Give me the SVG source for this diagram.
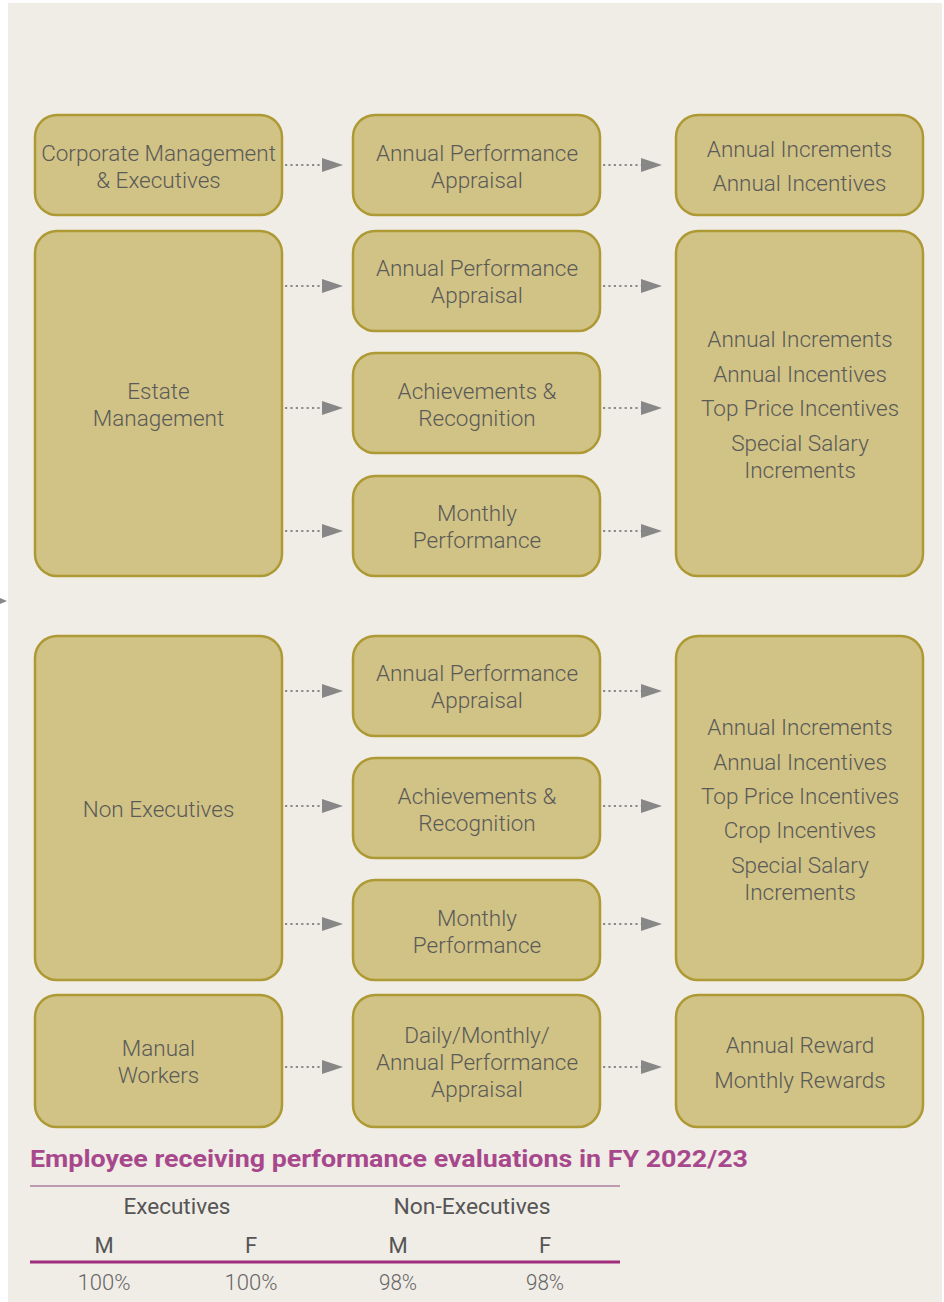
<svg xmlns="http://www.w3.org/2000/svg" width="944" height="1302" viewBox="0 0 944 1302">
<defs>
<style>
.bx{fill:#d1c285;stroke:#ae9a35;stroke-width:2.5}
.t{font-family:Roboto,"Liberation Sans",sans-serif;font-weight:300;font-size:22.5px;fill:#5a5a58;text-anchor:middle}
.c{stroke:#8a8a8a;stroke-width:2.2;stroke-dasharray:2.2 3.2;fill:none}
.h{font-family:Roboto,"Liberation Sans",sans-serif;font-weight:700;font-size:24px;fill:#a8488c}
.tb{font-family:Roboto,"Liberation Sans",sans-serif;font-weight:400;font-size:22px;fill:#555;text-anchor:middle}
.tv{font-family:Roboto,"Liberation Sans",sans-serif;font-weight:300;font-size:22px;fill:#666;text-anchor:middle}
</style>
<marker id="ah" markerUnits="userSpaceOnUse" markerWidth="22" markerHeight="16" refX="0" refY="8" orient="auto">
<polygon points="0,1 21,8 0,15" fill="#878787"/>
</marker>
</defs>
<rect x="0" y="0" width="944" height="1302" fill="#ffffff"/>
<rect x="8" y="3" width="934" height="1299" fill="#f0ece6"/>
<polygon points="0,598 7,601 0,604" fill="#878787"/>

<g id="connectors">
<line class="c" x1="285" y1="165" x2="322" y2="165" marker-end="url(#ah)"/>
<line class="c" x1="603" y1="165" x2="641" y2="165" marker-end="url(#ah)"/>
<line class="c" x1="285" y1="286" x2="322" y2="286" marker-end="url(#ah)"/>
<line class="c" x1="603" y1="286" x2="641" y2="286" marker-end="url(#ah)"/>
<line class="c" x1="285" y1="408" x2="322" y2="408" marker-end="url(#ah)"/>
<line class="c" x1="603" y1="408" x2="641" y2="408" marker-end="url(#ah)"/>
<line class="c" x1="285" y1="531" x2="322" y2="531" marker-end="url(#ah)"/>
<line class="c" x1="603" y1="531" x2="641" y2="531" marker-end="url(#ah)"/>
<line class="c" x1="285" y1="691" x2="322" y2="691" marker-end="url(#ah)"/>
<line class="c" x1="603" y1="691" x2="641" y2="691" marker-end="url(#ah)"/>
<line class="c" x1="285" y1="806" x2="322" y2="806" marker-end="url(#ah)"/>
<line class="c" x1="603" y1="806" x2="641" y2="806" marker-end="url(#ah)"/>
<line class="c" x1="285" y1="924" x2="322" y2="924" marker-end="url(#ah)"/>
<line class="c" x1="603" y1="924" x2="641" y2="924" marker-end="url(#ah)"/>
<line class="c" x1="285" y1="1067" x2="322" y2="1067" marker-end="url(#ah)"/>
<line class="c" x1="603" y1="1067" x2="641" y2="1067" marker-end="url(#ah)"/>
</g>

<g id="corp"><rect class="bx" x="35" y="115" width="247" height="100" rx="22"/>
<text class="t" x="158.5" y="161">Corporate Management</text><text class="t" x="158.5" y="188">&amp; Executives</text></g>
<g id="corp-apa"><rect class="bx" x="353" y="115" width="247" height="100" rx="22"/>
<text class="t" x="477" y="161">Annual Performance</text><text class="t" x="477" y="188">Appraisal</text></g>
<g id="corp-rew"><rect class="bx" x="676" y="115" width="247" height="100" rx="22"/>
<text class="t" x="799.5" y="157">Annual Increments</text><text class="t" x="799.5" y="191">Annual Incentives</text></g>

<g id="estate"><rect class="bx" x="35" y="231" width="247" height="345" rx="22"/>
<text class="t" x="158.5" y="399">Estate</text><text class="t" x="158.5" y="426">Management</text></g>
<g id="estate-apa"><rect class="bx" x="353" y="231" width="247" height="100" rx="22"/>
<text class="t" x="477" y="276">Annual Performance</text><text class="t" x="477" y="303">Appraisal</text></g>
<g id="estate-ach"><rect class="bx" x="353" y="353" width="247" height="100" rx="22"/>
<text class="t" x="477" y="399">Achievements &amp;</text><text class="t" x="477" y="426">Recognition</text></g>
<g id="estate-mon"><rect class="bx" x="353" y="476" width="247" height="100" rx="22"/>
<text class="t" x="477" y="521">Monthly</text><text class="t" x="477" y="548">Performance</text></g>
<g id="estate-rew"><rect class="bx" x="676" y="231" width="247" height="345" rx="22"/>
<text class="t" x="800" y="347">Annual Increments</text><text class="t" x="800" y="382">Annual Incentives</text><text class="t" x="800" y="416">Top Price Incentives</text><text class="t" x="800" y="451">Special Salary</text><text class="t" x="800" y="478">Increments</text></g>

<g id="nonexec"><rect class="bx" x="35" y="636" width="247" height="344" rx="22"/>
<text class="t" x="158.5" y="817">Non Executives</text></g>
<g id="nonexec-apa"><rect class="bx" x="353" y="636" width="247" height="100" rx="22"/>
<text class="t" x="477" y="681">Annual Performance</text><text class="t" x="477" y="708">Appraisal</text></g>
<g id="nonexec-ach"><rect class="bx" x="353" y="758" width="247" height="100" rx="22"/>
<text class="t" x="477" y="804">Achievements &amp;</text><text class="t" x="477" y="831">Recognition</text></g>
<g id="nonexec-mon"><rect class="bx" x="353" y="880" width="247" height="100" rx="22"/>
<text class="t" x="477" y="926">Monthly</text><text class="t" x="477" y="953">Performance</text></g>
<g id="nonexec-rew"><rect class="bx" x="676" y="636" width="247" height="344" rx="22"/>
<text class="t" x="800" y="735">Annual Increments</text><text class="t" x="800" y="770">Annual Incentives</text><text class="t" x="800" y="804">Top Price Incentives</text><text class="t" x="800" y="838">Crop Incentives</text><text class="t" x="800" y="873">Special Salary</text><text class="t" x="800" y="900">Increments</text></g>

<g id="manual"><rect class="bx" x="35" y="995" width="247" height="132" rx="22"/>
<text class="t" x="158.5" y="1056">Manual</text><text class="t" x="158.5" y="1083">Workers</text></g>
<g id="manual-apa"><rect class="bx" x="353" y="995" width="247" height="132" rx="22"/>
<text class="t" x="477" y="1043">Daily/Monthly/</text><text class="t" x="477" y="1070">Annual Performance</text><text class="t" x="477" y="1097">Appraisal</text></g>
<g id="manual-rew"><rect class="bx" x="676" y="995" width="247" height="132" rx="22"/>
<text class="t" x="800" y="1053">Annual Reward</text><text class="t" x="800" y="1088">Monthly Rewards</text></g>

<g id="table">
<text class="h" x="30" y="1167" textLength="718" lengthAdjust="spacingAndGlyphs">Employee receiving performance evaluations in FY 2022/23</text>
<line x1="30" y1="1186" x2="620" y2="1186" stroke="#8c4a7a" stroke-width="1"/>
<text class="tb" x="177" y="1214" textLength="107" lengthAdjust="spacingAndGlyphs">Executives</text>
<text class="tb" x="472" y="1214" textLength="157" lengthAdjust="spacingAndGlyphs">Non-Executives</text>
<text class="tb" x="104" y="1253">M</text>
<text class="tb" x="251" y="1253">F</text>
<text class="tb" x="398" y="1253">M</text>
<text class="tb" x="545" y="1253">F</text>
<line x1="30" y1="1262" x2="620" y2="1262" stroke="#a02c7c" stroke-width="3"/>
<text class="tv" x="104" y="1290" textLength="53" lengthAdjust="spacingAndGlyphs">100%</text>
<text class="tv" x="251" y="1290" textLength="53" lengthAdjust="spacingAndGlyphs">100%</text>
<text class="tv" x="398" y="1290" textLength="38" lengthAdjust="spacingAndGlyphs">98%</text>
<text class="tv" x="545" y="1290" textLength="38" lengthAdjust="spacingAndGlyphs">98%</text>
</g>
</svg>
